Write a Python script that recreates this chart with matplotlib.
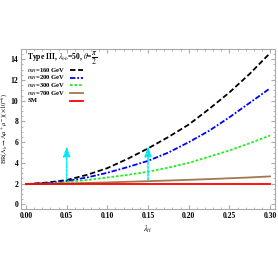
import matplotlib
matplotlib.use("Agg")
import matplotlib.pyplot as plt
from matplotlib.ticker import MultipleLocator

plt.rcParams['font.family'] = ['Liberation Serif', 'DejaVu Serif']
plt.rcParams['mathtext.fontset'] = 'stix'

# lambda_tt values and branching ratios (x 10^-6)
lam = [0.0, 0.025, 0.05, 0.075, 0.1, 0.125, 0.15, 0.175, 0.2, 0.225, 0.25, 0.275, 0.3]
br_160 = [1.95, 2.1, 2.35, 2.85, 3.5, 4.4, 5.4, 6.5, 7.7, 9.2, 10.8, 12.6, 14.6]
br_200 = [1.95, 2.05, 2.25, 2.6, 3.05, 3.6, 4.2, 5.0, 6.0, 7.1, 8.4, 9.8, 11.2]
br_300 = [1.95, 2.0, 2.15, 2.35, 2.6, 2.85, 3.15, 3.55, 4.0, 4.6, 5.2, 5.9, 6.65]
br_700 = [1.95, 1.98, 2.02, 2.07, 2.12, 2.18, 2.24, 2.3, 2.37, 2.44, 2.52, 2.6, 2.7]
br_sm = [1.95] * len(lam)

labels = [r'$m_H$=160 GeV', r'$m_H$=200 GeV', r'$m_H$=300 GeV', r'$m_H$=700 GeV', 'SM']
colors = ['black', 'blue', '#22ee22', '#a07850', 'red']
styles = [(0, (3, 1.5)), (0, (3, 1, 1, 1)), (0, (1.5, 1)), '-', '-']

arrow_x = [0.05, 0.15]
arrow_y0 = [2.15, 2.1]
arrow_y1 = [5.9, 5.9]

fig = plt.figure(figsize=(2.78, 2.78), dpi=100)
ax = fig.add_axes([0.076, 0.248, 0.913, 0.576])

for ys, c, s in zip([br_160, br_200, br_300, br_700, br_sm], colors, styles):
    ax.plot(lam, ys, color=c, ls=s, lw=1.3)

for x, y0, y1 in zip(arrow_x, arrow_y0, arrow_y1):
    ax.annotate('', xy=(x, y1), xytext=(x, y0),
                arrowprops=dict(arrowstyle='-|>,head_width=0.2,head_length=0.6',
                                color='#00e8f0', lw=1.1, ls=(0, (1.5, 1))))

# legend drawn by hand so the labels stay left aligned with keys on the right
ax.text(0.024, 0.94, r'Type III, $\lambda_{bb}$=50, $\theta$=$\dfrac{\pi}{2}$',
        transform=ax.transAxes, fontsize=5.5, fontweight='bold', va='center')
for i, (lab, c, s) in enumerate(zip(labels, colors, styles)):
    yy = 0.868 - i * 0.048
    ax.text(0.024, yy, lab, transform=ax.transAxes, fontsize=4.8, fontweight='bold', va='center')
    ax.plot([0.193, 0.244], [yy, yy], transform=ax.transAxes, color=c, ls=s, lw=1.3)

ax.set_xlim(-0.006, 0.306)
ax.set_ylim(-0.45, 15.0)
ax.xaxis.set_major_locator(MultipleLocator(0.05))
ax.xaxis.set_minor_locator(MultipleLocator(0.01))
ax.yaxis.set_major_locator(MultipleLocator(2))
ax.yaxis.set_minor_locator(MultipleLocator(0.5))
ax.tick_params(which='both', direction='in', top=True, right=True, color='#aaaaaa',
               labelsize=5.5, pad=2)
ax.tick_params(which='major', length=3)
ax.tick_params(which='minor', length=1.5)
ax.set_xticks(ax.get_xticks())
ax.set_xticklabels(['%.2f' % v for v in ax.get_xticks()])
for lab in ax.get_xticklabels() + ax.get_yticklabels():
    lab.set_fontweight('bold')
for sp in ax.spines.values():
    sp.set_color('#aaaaaa')
    sp.set_linewidth(0.8)
ax.set_xlim(-0.006, 0.306)

ax.set_xlabel(r'$\lambda_{tt}$', fontsize=6, labelpad=3)
ax.set_ylabel(r'BR($\Lambda_b\to\Lambda\mu^+\mu^-$)($\times10^{-6}$)', fontsize=4.6, labelpad=0.5)

fig.savefig('out.png', dpi=100)
